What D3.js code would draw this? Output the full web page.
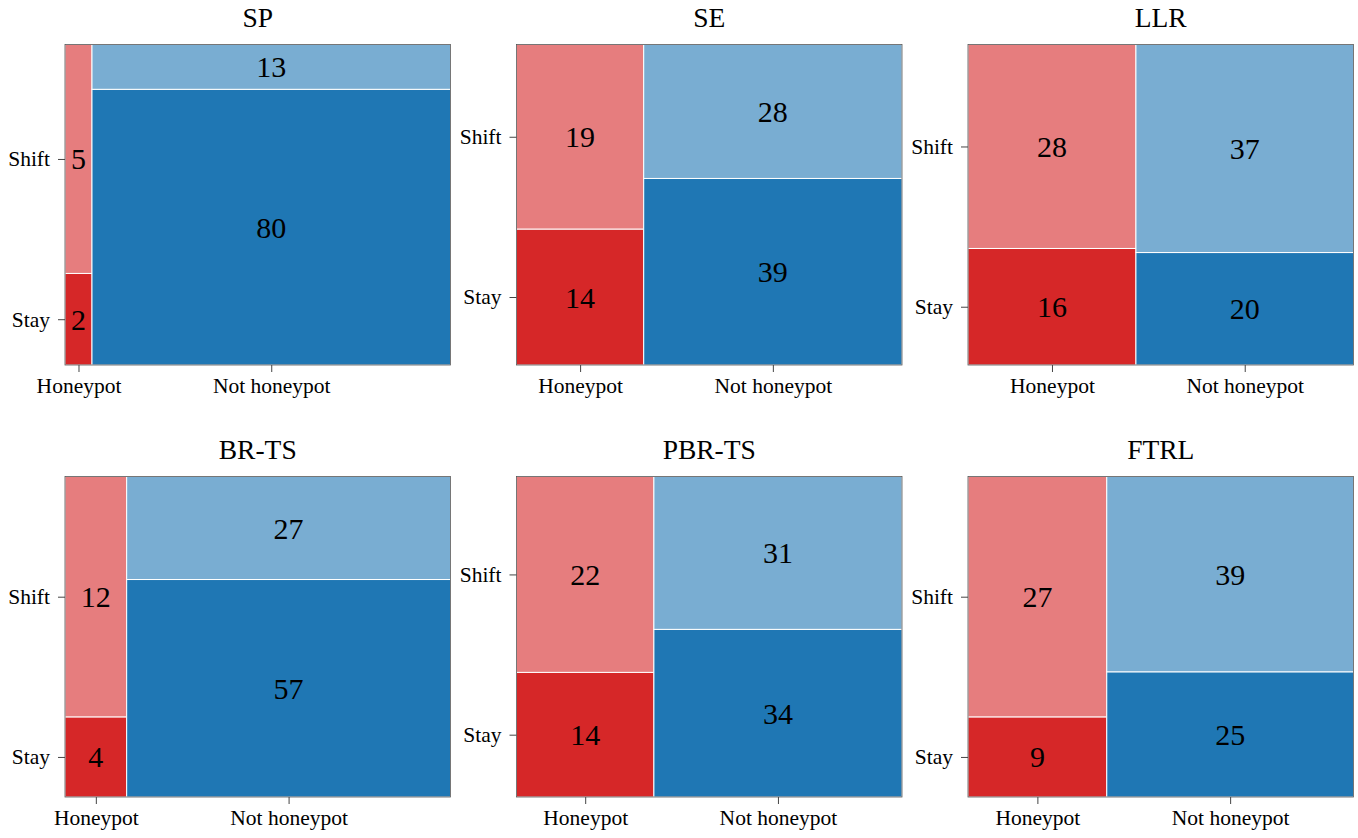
<!DOCTYPE html>
<html>
<head>
<meta charset="utf-8">
<script src="https://cdn.jsdelivr.net/npm/d3@7"></script>
<style>
  html, body { margin: 0; padding: 0; background: #fff; }
  svg { display: block; }
  text { font-family: "Liberation Serif", "DejaVu Serif", serif; fill: #000; }
</style>
</head>
<body>
<svg id="chart" width="1358" height="838"></svg>
<script>
// Outcome counts per method: honeypot vs. not honeypot, split into stay / shift
const methods = ["SP", "SE", "LLR", "BR-TS", "PBR-TS", "FTRL"];
const columns = ["Honeypot", "Not honeypot"];
const rowLabels = ["Stay", "Shift"];
const honeypotStay = [2, 14, 16, 4, 14, 9];
const honeypotShift = [5, 19, 28, 12, 22, 27];
const notHoneypotStay = [80, 39, 20, 57, 34, 25];
const notHoneypotShift = [13, 28, 37, 27, 31, 39];

// fill colours: [stay, shift] for each column
const palette = {
  "Honeypot": ["#d62728", "#e67d7e"],
  "Not honeypot": ["#1f77b4", "#79add2"]
};

const svg = d3.select("#chart");
const panelW = 385.5, panelH = 320.5;
const lefts = [65, 516.5, 968];
const tops = [44.5, 476.5];

methods.forEach((name, i) => {
  const px = lefts[i % 3], py = tops[Math.floor(i / 3)];
  const g = svg.append("g").attr("transform", `translate(${px},${py})`);

  const cols = [
    { key: "Honeypot", stay: honeypotStay[i], shift: honeypotShift[i] },
    { key: "Not honeypot", stay: notHoneypotStay[i], shift: notHoneypotShift[i] }
  ];
  cols.forEach(c => c.total = c.stay + c.shift);
  const grand = d3.sum(cols, c => c.total);

  // horizontal split proportional to column totals
  const x = d3.scaleLinear().domain([0, grand]).range([0, panelW]);
  let acc = 0;
  cols.forEach(c => { c.x0 = x(acc); acc += c.total; c.x1 = x(acc); });

  cols.forEach(c => {
    const y = d3.scaleLinear().domain([0, c.total]).range([panelH, 0]);
    const cells = [
      { v: c.stay, y0: y(0), y1: y(c.stay), color: palette[c.key][0] },
      { v: c.shift, y0: y(c.stay), y1: y(c.total), color: palette[c.key][1] }
    ];
    c.cells = cells;
    g.selectAll(null).data(cells).enter().append("rect")
      .attr("x", c.x0).attr("width", c.x1 - c.x0)
      .attr("y", d => d.y1).attr("height", d => d.y0 - d.y1)
      .attr("fill", d => d.color)
      .attr("stroke", "#fff").attr("stroke-width", 1);
    g.selectAll(null).data(cells).enter().append("text")
      .attr("x", (c.x0 + c.x1) / 2)
      .attr("y", d => (d.y0 + d.y1) / 2)
      .attr("text-anchor", "middle")
      .attr("dominant-baseline", "central")
      .style("font-size", "30px")
      .text(d => d.v);
  });

  // frame
  g.append("rect").attr("width", panelW).attr("height", panelH)
    .attr("fill", "none").attr("stroke", "#555").attr("stroke-width", 0.8);

  // x axis at column centres
  const xAxisScale = d3.scaleOrdinal(columns, cols.map(c => (c.x0 + c.x1) / 2));
  const xa = g.append("g").attr("transform", `translate(0,${panelH})`)
    .call(d3.axisBottom(xAxisScale).tickSize(7).tickPadding(6));
  // y axis at centres of the honeypot column segments
  const hp = cols[0].cells;
  const yAxisScale = d3.scaleOrdinal(rowLabels, hp.map(d => (d.y0 + d.y1) / 2));
  const ya = g.append("g").call(d3.axisLeft(yAxisScale).tickSize(7).tickPadding(8));
  [xa, ya].forEach(a => {
    a.select(".domain").remove();
    a.selectAll(".tick line").attr("stroke", "#444").attr("stroke-width", 1);
    a.selectAll(".tick text").style("font-size", "21.5px")
      .style("font-family", "'Liberation Serif', serif").attr("fill", "#000");
  });

  g.append("text")
    .attr("x", panelW / 2).attr("y", -18)
    .attr("text-anchor", "middle")
    .style("font-size", "27.5px")
    .text(name);
});
</script>
</body>
</html>
